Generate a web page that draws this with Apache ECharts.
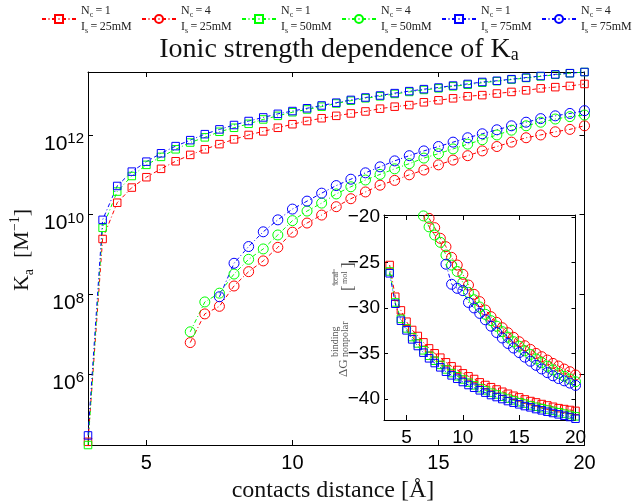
<!DOCTYPE html>
<html><head><meta charset="utf-8">
<script src="https://cdn.jsdelivr.net/npm/echarts@6/dist/echarts.min.js"></script>
<style>html,body{margin:0;padding:0;background:#fff}#c{width:636px;height:503px}</style>
</head><body><div id="c"></div>
<script>
// ---------- data ----------
// main plot: x = contacts distance [Å], values = log10(Ka [1/M])
const xSquares = [3,3.5,4,4.5,5,5.5,6,6.5,7,7.5,8,8.5,9,9.5,10,10.5,11,11.5,12,12.5,13,13.5,14,14.5,15,15.5,16,16.5,17,17.5,18,18.5,19,19.5,20];
const xCirc65 = [6.5,7,7.5,8,8.5,9,9.5,10,10.5,11,11.5,12,12.5,13,13.5,14,14.5,15,15.5,16,16.5,17,17.5,18,18.5,19,19.5,20];
const xCirc75 = [7.5,8,8.5,9,9.5,10,10.5,11,11.5,12,12.5,13,13.5,14,14.5,15,15.5,16,16.5,17,17.5,18,18.5,19,19.5,20];

const logKa_Nc1_25 = [4.30,9.39,10.30,10.68,10.94,11.15,11.34,11.50,11.64,11.77,11.89,12.00,12.09,12.18,12.27,12.35,12.42,12.48,12.54,12.59,12.66,12.71,12.75,12.82,12.87,12.92,12.97,13.00,13.04,13.08,13.12,13.17,13.20,13.23,13.28];
const logKa_Nc4_25 = [6.79,7.51,7.70,8.21,8.57,8.84,9.18,9.56,9.79,9.99,10.20,10.40,10.57,10.74,10.86,11.00,11.12,11.25,11.37,11.48,11.60,11.71,11.82,11.93,12.00,12.08,12.14,12.23];
const logKa_Nc1_50 = [4.22,9.67,10.58,10.97,11.25,11.45,11.64,11.81,11.94,12.08,12.18,12.28,12.39,12.48,12.57,12.64,12.71,12.79,12.86,12.92,12.97,13.03,13.08,13.13,13.17,13.22,13.26,13.31,13.35,13.39,13.43,13.47,13.51,13.55,13.58];
const logKa_Nc4_50 = [7.06,7.81,8.03,8.51,8.88,9.14,9.49,9.85,10.09,10.29,10.52,10.70,10.87,11.01,11.15,11.28,11.42,11.53,11.65,11.77,11.88,12.00,12.12,12.23,12.32,12.40,12.46,12.50];
const logKa_Nc1_75 = [4.46,9.87,10.72,11.08,11.33,11.54,11.72,11.87,12.02,12.14,12.25,12.35,12.44,12.53,12.60,12.67,12.74,12.81,12.88,12.94,12.99,13.05,13.10,13.15,13.19,13.24,13.28,13.33,13.36,13.40,13.44,13.48,13.52,13.55,13.58];
const logKa_Nc4_75 = [7.94,8.78,9.20,9.57,9.87,10.14,10.34,10.54,10.73,10.89,11.05,11.20,11.35,11.48,11.60,11.71,11.82,11.93,12.03,12.13,12.23,12.32,12.41,12.48,12.54,12.61];

// inset: ΔG binding nonpolar [kcal/mol]
const xInSq = [3.5,4,4.5,5,5.5,6,6.5,7,7.5,8,8.5,9,9.5,10,10.5,11,11.5,12,12.5,13,13.5,14,14.5,15,15.5,16,16.5,17,17.5,18,18.5,19,19.5,20];
const xInC25 = [7,7.5,8,8.5,9,9.5,10,10.5,11,11.5,12,12.5,13,13.5,14,14.5,15,15.5,16,16.5,17,17.5,18,18.5,19,19.5,20];
const xInC50 = [6.5,7,7.5,8,8.5,9,9.5,10,10.5,11,11.5,12,12.5,13,13.5,14,14.5,15,15.5,16,16.5,17,17.5,18,18.5,19,19.5,20];
const xInC75 = [8.5,9,9.5,10,10.5,11,11.5,12,12.5,13,13.5,14,14.5,15,15.5,16,16.5,17,17.5,18,18.5,19,19.5,20];

const dG_Nc1_25 = [-25.29,-28.77,-30.27,-31.51,-32.42,-33.08,-33.78,-34.44,-34.98,-35.46,-35.97,-36.41,-36.81,-37.18,-37.51,-37.80,-38.17,-38.46,-38.70,-38.95,-39.20,-39.42,-39.64,-39.82,-40.04,-40.22,-40.37,-40.55,-40.70,-40.85,-41.00,-41.10,-41.20,-41.30];
const dG_Nc1_50 = [-26.00,-29.40,-31.20,-32.25,-33.20,-33.90,-34.65,-35.25,-35.80,-36.25,-36.75,-37.15,-37.50,-37.85,-38.20,-38.50,-38.80,-39.05,-39.30,-39.50,-39.75,-39.95,-40.15,-40.35,-40.50,-40.70,-40.85,-41.00,-41.15,-41.30,-41.45,-41.60,-41.75,-41.90];
const dG_Nc1_75 = [-26.20,-29.54,-31.40,-32.46,-33.45,-34.18,-34.91,-35.53,-36.05,-36.52,-37.00,-37.40,-37.77,-38.13,-38.46,-38.76,-39.04,-39.30,-39.56,-39.78,-40.00,-40.22,-40.40,-40.58,-40.77,-40.91,-41.10,-41.24,-41.39,-41.53,-41.68,-41.83,-41.97,-42.16];
const dG_Nc4_25 = [-20.17,-21.19,-22.36,-23.28,-24.45,-25.29,-26.31,-27.49,-28.51,-29.31,-30.23,-30.96,-31.58,-32.17,-32.72,-33.23,-33.71,-34.15,-34.55,-34.99,-35.35,-35.72,-36.09,-36.38,-36.71,-37.00,-37.36];
const dG_Nc4_50 = [-19.90,-21.10,-22.00,-22.80,-24.20,-25.30,-26.00,-27.20,-28.30,-29.10,-29.90,-30.70,-31.40,-32.00,-32.60,-33.20,-33.70,-34.20,-34.70,-35.10,-35.60,-36.00,-36.40,-36.80,-37.20,-37.50,-37.80,-38.10];
const dG_Nc4_75 = [-25.20,-27.40,-27.85,-28.10,-29.40,-30.00,-30.60,-31.30,-32.00,-32.70,-33.30,-33.90,-34.40,-34.90,-35.40,-35.85,-36.30,-36.70,-37.10,-37.45,-37.75,-38.00,-38.25,-38.50];

// ticks
const xTicks = [5,10,15,20];
const yTicksMain = [1e6,1e8,1e10,1e12];
const yTicksInset = [-40,-35,-30,-25,-20];
const seriesNames = ['Nc=1, Is=25mM','Nc=4, Is=25mM','Nc=1, Is=50mM','Nc=4, Is=50mM','Nc=1, Is=75mM','Nc=4, Is=75mM'];
const ncLabels = ['1','4','1','4','1','4'];
const isLabels = ['25mM','25mM','50mM','50mM','75mM','75mM'];

// ---------- chart ----------
const SANS = 'Liberation Sans';
const SERIF = 'Liberation Serif';
const colors = ['#ff0000','#ff0000','#00ff00','#00ff00','#0000ff','#0000ff'];
const symbols = ['rect','circle','rect','circle','rect','circle'];
const mainX = [xSquares,xCirc65,xSquares,xCirc65,xSquares,xCirc75];
const mainY = [logKa_Nc1_25,logKa_Nc4_25,logKa_Nc1_50,logKa_Nc4_50,logKa_Nc1_75,logKa_Nc4_75];
const inX = [xInSq,xInC25,xInSq,xInC50,xInSq,xInC75];
const inY = [dG_Nc1_25,dG_Nc4_25,dG_Nc1_50,dG_Nc4_50,dG_Nc1_75,dG_Nc4_75];
const dash = [4,2.5,1,2.5];

function mkSeries(i, xs, ys, xi, yi, toVal) {
  return {
    type:'line', name: seriesNames[i], xAxisIndex:xi, yAxisIndex:yi,
    data: xs.map((x,k)=>[x, toVal(ys[k])]),
    symbol: symbols[i], symbolSize: symbols[i]==='rect' ? 7.5 : 10,
    showSymbol:true, clip:true, silent:true,
    lineStyle:{color:colors[i], width:1, type:dash},
    itemStyle:{color:'rgba(255,255,255,0)', borderColor:colors[i], borderWidth:1},
    emphasis:{disabled:true}
  };
}
const series = [];
for (let i=0;i<6;i++) series.push(mkSeries(i, mainX[i], mainY[i], 0, 0, v=>Math.pow(10,v)));
for (let i=0;i<6;i++) series.push(mkSeries(i, inX[i], inY[i], 2, 2, v=>v));

const lineBlack = {show:true, onZero:false, lineStyle:{color:'#000', width:1}};
function xAx(grid, pos, labels, fs, min, max) {
  return {gridIndex:grid, type:'value', min:min, max:max, position:pos,
    axisLine: lineBlack,
    axisTick:{show:true, inside:true, length:5, customValues:xTicks, lineStyle:{color:'#000'}},
    axisLabel:{show:labels, customValues:xTicks, color:'#000', fontFamily:SANS, fontSize:fs, margin:8},
    splitLine:{show:false}};
}
const mainYLabel = {show:true, customValues:yTicksMain, margin:4,
  formatter: v => '{b|10}{e|' + Math.round(Math.log10(v)) + '}',
  rich:{ b:{fontFamily:SANS, fontSize:21, color:'#000', lineHeight:21, padding:[18,0,0,0]},
         e:{fontFamily:SANS, fontSize:15, color:'#000', lineHeight:15, padding:[7,0,0,0], verticalAlign:'top'} } };
function yMain(pos, labels) {
  return {gridIndex:0, type:'log', logBase:10, min:Math.pow(10,4.22), max:Math.pow(10,13.58), position:pos,
    axisLine: lineBlack,
    axisTick:{show:true, inside:true, length:5, customValues:yTicksMain, lineStyle:{color:'#000'}},
    axisLabel: labels ? mainYLabel : {show:false},
    splitLine:{show:false}, minorTick:{show:false}};
}
function yIn(pos, labels) {
  return {gridIndex:1, type:'value', min:-42.3, max:-19.8, position:pos,
    axisLine: lineBlack,
    axisTick:{show:true, inside:true, length:4, customValues:yTicksInset, lineStyle:{color:'#000'}},
    axisLabel:{show:labels, customValues:yTicksInset, color:'#000', fontFamily:SANS, fontSize:19, margin:4,
      formatter: v => String(v).replace('-','\u2212')},
    splitLine:{show:false}};
}

const legendRich = {
  n:{fontFamily:SERIF, fontSize:12, color:'#222', lineHeight:16},
  s:{fontFamily:SERIF, fontSize:8, color:'#222', lineHeight:10, verticalAlign:'bottom'}
};
const legends = seriesNames.map((n,i)=>({
  data:[n], left:36+100*i, top:0, padding:5, itemWidth:34, itemHeight:10, itemGap:0,
  selectedMode:false, textStyle:{rich:legendRich},
  formatter: () => '{n|N}{s|c}{n|\u2009=\u2009' + ncLabels[i] + '}\n{n|I}{s|s}{n|\u2009=\u2009' + isLabels[i] + '}'
}));

const chart = echarts.init(document.getElementById('c'), null, {renderer:'canvas'});
chart.setOption({
  animation:false,
  backgroundColor:'#fff',
  legend: legends,
  grid:[
    {left:88, top:72, width:496.5, height:373, containLabel:false},
    {left:384, top:215, width:191.5, height:205, containLabel:false, show:true, backgroundColor:'#fff', borderWidth:0}
  ],
  xAxis:[ xAx(0,'bottom',true,20,3,20), xAx(0,'top',false,20,3,20), xAx(1,'bottom',true,19,3,20), xAx(1,'top',false,19,3,20) ],
  yAxis:[ yMain('left',true), yMain('right',false), yIn('left',true), yIn('right',false) ],
  series: series,
  graphic:[
    {type:'text', x:339, y:50, silent:true, style:{text:'Ionic strength dependence of K{sub|a}', fill:'#111',
      font:'28px "Liberation Serif"', align:'center', verticalAlign:'middle',
      rich:{sub:{fontFamily:SERIF, fontSize:18, fill:'#111', verticalAlign:'bottom', lineHeight:14}}}},
    {type:'text', x:333, y:491, silent:true, style:{text:'contacts distance [Å]', fill:'#111',
      font:'24px "Liberation Serif"', align:'center', verticalAlign:'middle'}},
    {type:'text', x:22, y:250, rotation:Math.PI/2, silent:true, style:{text:'{b|K}{s|a}{b|  [M}{p|\u22121}{b|]}',
      align:'center', verticalAlign:'middle',
      rich:{b:{fontFamily:SERIF, fontSize:22, fill:'#111', lineHeight:28},
            s:{fontFamily:SERIF, fontSize:14, fill:'#111', lineHeight:14, verticalAlign:'bottom'},
            p:{fontFamily:SERIF, fontSize:14, fill:'#111', lineHeight:14, verticalAlign:'top'}}}},
    {type:'group', x:337, y:377, rotation:Math.PI/2, silent:true, children:[
      {type:'text', style:{text:'\u0394G', x:0, y:0, font:'13px "Liberation Serif"', fill:'#555', verticalAlign:'alphabetic'}},
      {type:'text', style:{text:'binding', x:20, y:-7, font:'10px "Liberation Serif"', fill:'#555', verticalAlign:'alphabetic'}},
      {type:'text', style:{text:'nonpolar', x:20, y:3, font:'10px "Liberation Serif"', fill:'#555', verticalAlign:'alphabetic'}},
      {type:'text', style:{text:'[', x:86, y:3, font:'17px "Liberation Serif"', fill:'#555', verticalAlign:'alphabetic'}},
      {type:'text', style:{text:'kcal', x:92, y:-5, font:'8px "Liberation Serif"', fill:'#555', verticalAlign:'alphabetic'}},
      {type:'line', shape:{x1:91, y1:-3, x2:108, y2:-3}, style:{stroke:'#555', lineWidth:0.7}},
      {type:'text', style:{text:'mol', x:93, y:4, font:'8px "Liberation Serif"', fill:'#555', verticalAlign:'alphabetic'}},
      {type:'text', style:{text:']', x:109, y:3, font:'17px "Liberation Serif"', fill:'#555', verticalAlign:'alphabetic'}}
    ]}
  ]
});
</script></body></html>
